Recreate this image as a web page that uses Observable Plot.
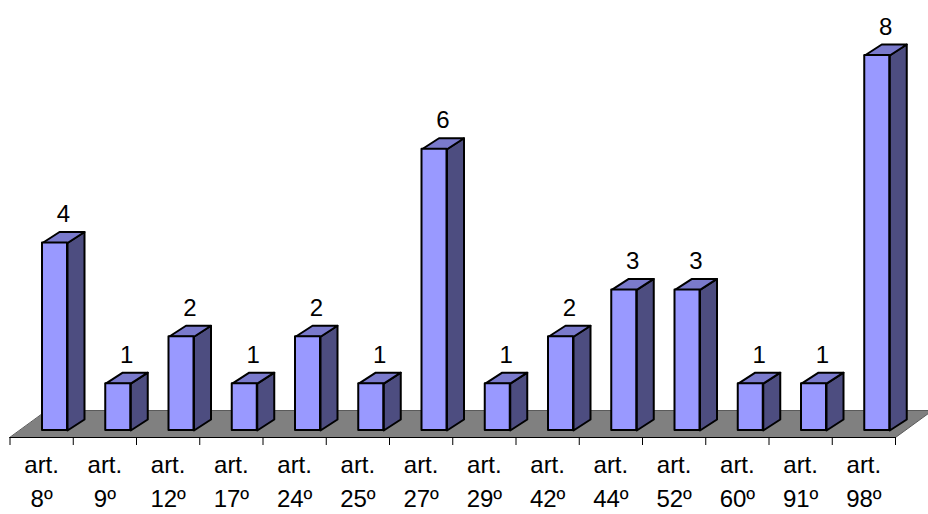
<!DOCTYPE html>
<html>
<head>
<meta charset="utf-8">
<script src="https://cdn.jsdelivr.net/npm/d3@7"></script>
<script src="https://cdn.jsdelivr.net/npm/@observablehq/plot@0.6"></script>
<style>
  html, body { margin: 0; padding: 0; background: #ffffff; }
  #chart svg { display: block; }
</style>
</head>
<body>
<div id="chart"></div>
<script>
// ---- data ----
const categories = ["art. 8º","art. 9º","art. 12º","art. 17º","art. 24º","art. 25º","art. 27º","art. 29º","art. 42º","art. 44º","art. 52º","art. 60º","art. 91º","art. 98º"];
const values = [4, 1, 2, 1, 2, 1, 6, 1, 2, 3, 3, 1, 1, 8];

// ---- projection geometry (pixels) ----
const X0 = 9.5, X1 = 895, Y0 = 430, Y8 = 55;
const pxX = (X1 - X0) / categories.length;
const pxY = (Y0 - Y8) / 8;
const barOff = 32.5 / pxX, barW = 25 / pxX;
const depX = 17 / pxX, depY = 11 / pxY;
const floorFront = -7 / pxY, floorBack = 20 / pxY, floorDepX = 37 / pxX;

const bars = values.map((v, i) => {
  const x1 = i - 0.5 + barOff;
  return {i, v, x1, x2: x1 + barW, cx: x1 + (barW + depX) / 2};
});

const floor = [
  {x: -0.5, y: floorFront},
  {x: categories.length - 0.5, y: floorFront},
  {x: categories.length - 0.5 + floorDepX, y: floorBack},
  {x: -0.5 + floorDepX, y: floorBack}
];

const sides = bars.flatMap(b => [
  {id: b.i, x: b.x2, y: 0},
  {id: b.i, x: b.x2 + depX, y: depY},
  {id: b.i, x: b.x2 + depX, y: b.v + depY},
  {id: b.i, x: b.x2, y: b.v}
]);
const tops = bars.flatMap(b => [
  {id: b.i, x: b.x1, y: b.v},
  {id: b.i, x: b.x2, y: b.v},
  {id: b.i, x: b.x2 + depX, y: b.v + depY},
  {id: b.i, x: b.x1 + depX, y: b.v + depY}
]);

const chart = Plot.plot({
  width: 928,
  height: 514,
  marginTop: 0,
  marginBottom: 77,
  marginLeft: 0,
  marginRight: 0,
  x: {domain: [-0.5, categories.length - 0.5], range: [X0, X1]},
  y: {domain: [0, 8], range: [Y0, Y8], axis: null},
  style: {fontFamily: "'Liberation Sans', Arial, sans-serif", background: "#ffffff", color: "#000"},
  marks: [
    Plot.line(floor, {x: "x", y: "y", curve: "linear-closed", fill: "#808080", stroke: "#5a5a5a", strokeWidth: 1}),
    Plot.ruleY([floorFront], {x1: -0.5, x2: categories.length - 0.5, stroke: "#000", strokeWidth: 1.2}),
    Plot.axisX({ticks: d3.range(categories.length + 1).map(i => i - 0.5), tickSize: 8, tickFormat: () => "", stroke: "#000"}),
    Plot.axisX({ticks: d3.range(categories.length), tickSize: 0, tickPadding: 12,
      tickFormat: i => categories[i].replace(" ", "\n"), fontSize: 24, lineHeight: 1.4}),
    Plot.line(sides, {x: "x", y: "y", z: "id", curve: "linear-closed", fill: "#4d4d80", stroke: "#000", strokeWidth: 2, strokeLinejoin: "round"}),
    Plot.line(tops, {x: "x", y: "y", z: "id", curve: "linear-closed", fill: "#7a7acc", stroke: "#000", strokeWidth: 2, strokeLinejoin: "round"}),
    Plot.rect(bars, {x1: "x1", x2: "x2", y1: 0, y2: "v", fill: "#9999ff", stroke: "#000", strokeWidth: 2, strokeLinejoin: "round"}),
    Plot.text(bars, {x: "cx", y: d => d.v + depY, dy: -10, text: d => String(d.v), lineAnchor: "bottom", fontSize: 24, fill: "#000"})
  ]
});
document.getElementById("chart").append(chart);
</script>
</body>
</html>
